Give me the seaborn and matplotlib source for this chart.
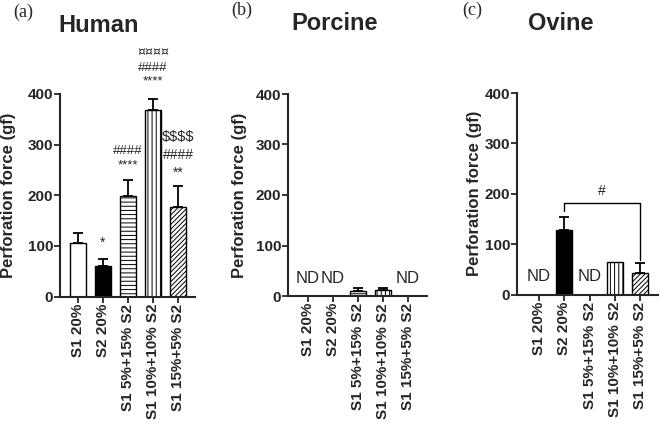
import matplotlib.pyplot as plt
import numpy as np
import pandas as pd
import seaborn as sns

# groups on the x axis
groups = ["S1 20%", "S2 20%", "S1 5%+15% S2", "S1 10%+10% S2", "S1 15%+5% S2"]
fills = ["white", "black", "white", "white", "white"]
hatches = ["", "", "----", "||||", "///////"]

# mean perforation force (gf) and SD, NaN = not detected
human_mean = [106, 61, 198, 368, 177]
human_err = [19, 14, 33, 23, 42]
porcine_mean = [np.nan, np.nan, 10, 12, np.nan]
porcine_err = [0, 0, 5, 3, 0]
ovine_mean = [np.nan, 128, np.nan, 64, 43]
ovine_err = [0, 25, 0, 0, 19]

# significance marks for human panel: (bar index, y, text, size)
human_marks = [
    (1, 106, "*", 10),
    (2, 258, "****", 9.5),
    (2, 287, "####", 9.5),
    (3, 425, "****", 9.5),
    (3, 452, "####", 9.5),
    (3, 484, "¤¤¤¤", 9),
    (4, 245, "**", 10),
    (4, 280, "####", 10),
    (4, 316, r"\$\$\$\$", 10.5),
]

sns.set_style("ticks")
plt.rcParams["font.family"] = ["Liberation Sans", "DejaVu Sans"]
plt.rcParams["hatch.linewidth"] = 0.7

W, H = 660, 423
fig = plt.figure(figsize=(6.6, 4.23), dpi=100)


def make_axes(x0, x1, y400, y0):
    return fig.add_axes([x0 / W, 1 - y0 / H, (x1 - x0) / W, (y0 - y400) / H])


def draw_panel(ax, means, errs, xlim, label_x):
    df = pd.DataFrame({"group": groups, "force": np.nan_to_num(means)})
    sns.barplot(data=df, x="group", y="force", order=groups, width=0.65,
                errorbar=None, color="white", edgecolor="black",
                linewidth=1.0, ax=ax)
    for i, p in enumerate(ax.patches):
        p.set_facecolor(fills[i])
        p.set_hatch(hatches[i])
        if np.isnan(means[i]):
            p.set_visible(False)
    idx = [i for i in range(len(groups)) if errs[i] > 0]
    ax.errorbar(idx, [means[i] for i in idx],
                yerr=[[0] * len(idx), [errs[i] for i in idx]],
                fmt="none", ecolor="black", elinewidth=1.3,
                capsize=3.5, capthick=1.3)
    for i, m in enumerate(means):
        if np.isnan(m):
            ax.text(i, 35, "ND", ha="center", va="center", fontsize=12)
    ax.set_ylim(0, 400)
    ax.set_xlim(*xlim)
    ax.set_yticks([0, 100, 200, 300, 400])
    ax.set_xlabel("")
    ax.set_ylabel("Perforation force (gf)", fontsize=12, fontweight="bold")
    ax.yaxis.set_label_coords(label_x, 0.5)
    ax.tick_params(direction="out", length=4, width=1.3, labelsize=11, pad=1)
    ax.set_xticks(range(len(groups)))
    ax.set_xticklabels(groups, rotation=90, fontweight="bold")
    for t in ax.get_yticklabels():
        t.set_fontweight("bold")
    sns.despine(ax=ax)
    for s in ["left", "bottom"]:
        ax.spines[s].set_linewidth(1.5)


ax1 = make_axes(60, 195, 94, 296.5)
draw_panel(ax1, human_mean, human_err, (-0.72, 4.68), -0.326)
for i, y, txt, fs in human_marks:
    fam = ["DejaVu Sans"] if txt.startswith("¤") else None
    ax1.text(i, y, txt, ha="center", va="center", fontsize=fs,
             clip_on=False, family=fam)

ax2 = make_axes(288, 427, 94, 296)
draw_panel(ax2, porcine_mean, porcine_err, (-0.8, 4.76), -0.295)

ax3 = make_axes(517, 658, 93, 294.5)
draw_panel(ax3, ovine_mean, ovine_err, (-0.86, 4.7), -0.248)
ax3.plot([1, 1, 4, 4], [165, 182, 182, 68], color="black", lw=1.0)
ax3.text(2.5, 206, "#", ha="center", va="center", fontsize=10)

# panel titles and letters
for x, y, txt in [(99, 25, "Human"), (335, 24, "Porcine"), (561, 24, "Ovine")]:
    fig.text(x / W, 1 - y / H, txt, ha="center", va="center",
             fontsize=17, fontweight="bold")
for x, y, txt in [(23, 12, "(a)"), (242, 10, "(b)"), (472, 10, "(c)")]:
    fig.text(x / W, 1 - y / H, txt, ha="center", va="center",
             fontsize=13, family="Liberation Serif")

fig.savefig("out.png", dpi=100)
